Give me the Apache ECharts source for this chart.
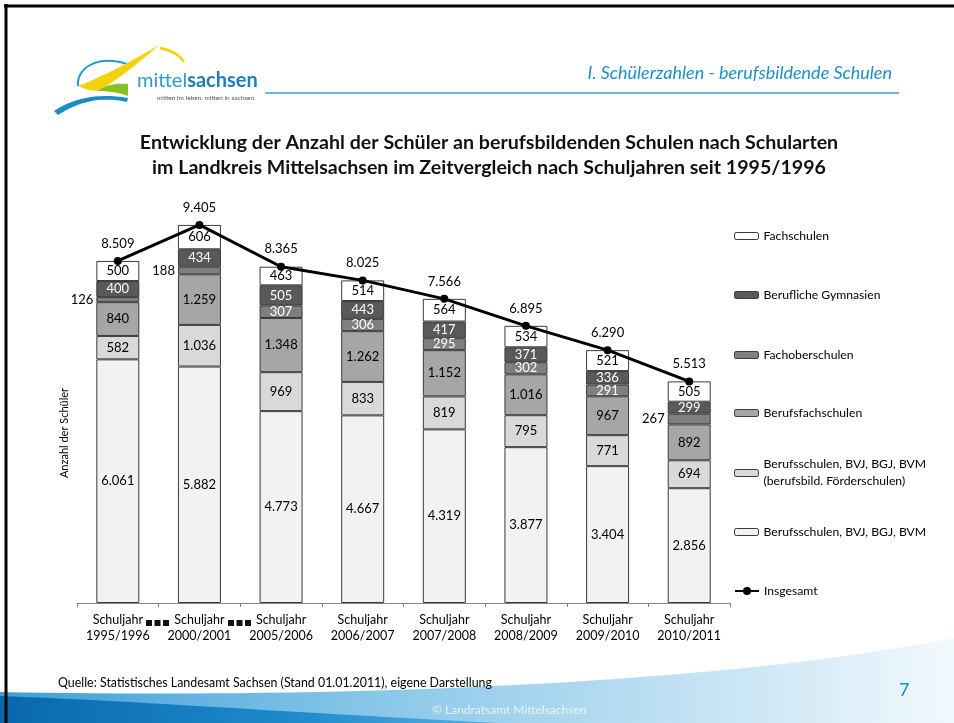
<!DOCTYPE html>
<html>
<head>
<meta charset="utf-8">
<script src="https://cdn.jsdelivr.net/npm/echarts@6/dist/echarts.min.js"></script>
<style>
  html, body { margin: 0; padding: 0; background: #fff; }
  #chart { width: 954px; height: 723px; }
</style>
</head>
<body>
<div id="chart"></div>
<script>
// Schüler an berufsbildenden Schulen, Landkreis Mittelsachsen
const categories = [
  'Schuljahr\n1995/1996', 'Schuljahr\n2000/2001', 'Schuljahr\n2005/2006', 'Schuljahr\n2006/2007',
  'Schuljahr\n2007/2008', 'Schuljahr\n2008/2009', 'Schuljahr\n2009/2010', 'Schuljahr\n2010/2011'
];
const berufsschulen = [6061, 5882, 4773, 4667, 4319, 3877, 3404, 2856];
const foerderschulen = [582, 1036, 969, 833, 819, 795, 771, 694];
const berufsfachschulen = [840, 1259, 1348, 1262, 1152, 1016, 967, 892];
const fachoberschulen = [126, 188, 307, 306, 295, 302, 291, 267];
const gymnasien = [400, 434, 505, 443, 417, 371, 336, 299];
const fachschulen = [500, 606, 463, 514, 564, 534, 521, 505];
const insgesamt = [8509, 9405, 8365, 8025, 7566, 6895, 6290, 5513];

const FONT = 'Lato, "Open Sans", sans-serif';
const fmt = v => String(v).replace(/\B(?=(\d{3})+(?!\d))/g, '.');

const chart = echarts.init(document.getElementById('chart'));

// name, data, fill, label colour
const barDefs = [
  ['Berufsschulen, BVJ, BGJ, BVM', berufsschulen, '#f2f2f2', '#000'],
  ['Berufsschulen, BVJ, BGJ, BVM (berufsbild. Förderschulen)', foerderschulen, '#d9d9d9', '#000'],
  ['Berufsfachschulen', berufsfachschulen, '#a6a6a6', '#000'],
  ['Fachoberschulen', fachoberschulen, '#7f7f7f', '#fff'],
  ['Berufliche Gymnasien', gymnasien, '#595959', '#fff'],
  ['Fachschulen', fachschulen, '#ffffff', '#000']
];

const barSeries = barDefs.map(([name, data, color, labelColor]) => ({
  name: name,
  type: 'bar',
  stack: 'total',
  barWidth: 43,
  itemStyle: { color: color, borderColor: '#3a3a3a', borderWidth: 1 },
  label: {
    show: true, position: 'inside', color: labelColor,
    fontFamily: FONT, fontSize: 13,
    formatter: p => fmt(p.value)
  },
  // segments too thin for a label get it on the left side
  data: data.map(v => v < 280
    ? { value: v, label: { position: 'left', distance: 3, color: '#000' } }
    : v)
}));

const lineSeries = {
  name: 'Insgesamt',
  type: 'line',
  data: insgesamt,
  z: 5,
  symbol: 'circle',
  symbolSize: 8,
  lineStyle: { color: '#000', width: 3 },
  itemStyle: { color: '#000' },
  label: {
    show: true, position: 'top', distance: 7, color: '#000',
    fontFamily: FONT, fontSize: 13,
    formatter: p => fmt(p.value)
  }
};

// legend rows, top to bottom (centre y of each icon)
const legendRows = [
  ['Fachschulen', 237],
  ['Berufliche Gymnasien', 296],
  ['Fachoberschulen', 356],
  ['Berufsfachschulen', 414],
  ['Berufsschulen, BVJ, BGJ, BVM (berufsbild. Förderschulen)', 473],
  ['Berufsschulen, BVJ, BGJ, BVM', 533],
  ['Insgesamt', 592]
];
const legends = legendRows.map(([name, cy]) => {
  const two = name.indexOf(' (') > 0;
  return {
    data: [name],
    left: 734,
    top: two ? cy - 25.5 : cy - 7,
    padding: 0,
    itemWidth: 24,
    itemHeight: name === 'Insgesamt' ? 10 : 7,
    itemStyle: name === 'Insgesamt' ? {} : { borderColor: '#3a3a3a', borderWidth: 1 },
    textStyle: two
      ? { fontFamily: FONT, fontSize: 12.2, color: '#000', lineHeight: 17, padding: [17, 0, 0, 0] }
      : { fontFamily: FONT, fontSize: 12.2, color: '#000' },
    formatter: n => n.replace(' (', '\n('),
    selectedMode: false
  };
});

// sample a cubic bezier into polygon points (for decorative shapes)
function bez(p0, p1, p2, p3, n) {
  const pts = [];
  for (let i = 0; i <= n; i++) {
    const t = i / n, u = 1 - t;
    pts.push([
      u * u * u * p0[0] + 3 * u * u * t * p1[0] + 3 * u * t * t * p2[0] + t * t * t * p3[0],
      u * u * u * p0[1] + 3 * u * u * t * p1[1] + 3 * u * t * t * p2[1] + t * t * t * p3[1]
    ]);
  }
  return pts;
}
function curve(x1, y1, c1x, c1y, c2x, c2y, x2, y2, color, w) {
  return {
    type: 'bezierCurve',
    shape: { x1: x1, y1: y1, cpx1: c1x, cpy1: c1y, cpx2: c2x, cpy2: c2y, x2: x2, y2: y2 },
    style: { stroke: color, lineWidth: w, fill: null }
  };
}

function breakMarks(x0) {
  return [0, 1, 2].map(i => ({
    type: 'rect', shape: { x: x0 + i * 8.5, y: 620, width: 6, height: 6 },
    style: { fill: '#111' }
  }));
}

const footerLight = bez([0, 692], [300, 698], [700, 688], [954, 638], 40).concat([[954, 723], [0, 723]]);
const footerDark = bez([0, 696], [120, 700], [280, 712], [500, 723], 30).concat([[0, 723]]);
const yellowWing = bez([78, 86], [100, 78], [130, 62], [159, 45], 16)
  .concat(bez([159, 45], [140, 62], [120, 78], [98, 91], 16))
  .concat([[88, 90]]);
const greenPart = bez([98, 91], [105, 85], [115, 83], [128, 84], 12).concat([[128, 96]])
  .concat(bez([128, 96], [118, 92], [106, 91], [98, 91], 12));
const blueSwoosh = bez([54, 111], [70, 100], [95, 92], [128, 98], 16)
  .concat(bez([127, 102], [100, 96], [78, 102], [58, 115], 16));

chart.setOption({
  backgroundColor: '#fff',
  animation: false,
  textStyle: { fontFamily: FONT },
  grid: { left: 77, right: 224, top: 201, bottom: 120 },
  legend: legends,
  xAxis: {
    type: 'category',
    data: categories,
    axisLine: { lineStyle: { color: '#868686', width: 1 } },
    axisTick: { show: true, length: 4, lineStyle: { color: '#868686' } },
    axisLabel: { color: '#000', fontFamily: FONT, fontSize: 12.5, lineHeight: 16, margin: 9, interval: 0 }
  },
  yAxis: {
    type: 'value', min: 0, max: 10000,
    axisLine: { show: false }, axisTick: { show: false },
    axisLabel: { show: false }, splitLine: { show: false }
  },
  series: barSeries.concat([lineSeries]),
  graphic: [
    // footer swoosh
    {
      type: 'polygon', z: -10,
      shape: { points: footerLight },
      style: {
        fill: new echarts.graphic.LinearGradient(0, 0, 1, 0, [
          { offset: 0, color: '#3d9fd8' },
          { offset: 0.45, color: '#93cceb' },
          { offset: 0.8, color: '#cfe8f5' },
          { offset: 1, color: '#f2f9fd' }
        ])
      }
    },
    {
      type: 'polygon', z: -9,
      shape: { points: footerDark },
      style: {
        fill: new echarts.graphic.LinearGradient(0, 0, 1, 0, [
          { offset: 0, color: '#0868ad' },
          { offset: 0.6, color: '#1f8bcc' },
          { offset: 1, color: '#5bb0de' }
        ])
      }
    },
    {
      type: 'text', left: 432, top: 704,
      style: { text: '© Landratsamt Mittelsachsen', fill: 'rgba(255,255,255,0.75)', font: '12px ' + FONT }
    },
    {
      type: 'text', left: 899, top: 681,
      style: { text: '7', fill: '#1a8cc8', font: '18px ' + FONT }
    },
    // frame
    { type: 'line', z: 20, shape: { x1: 4, y1: 6, x2: 954, y2: 6 }, style: { stroke: '#000', lineWidth: 3 } },
    { type: 'line', z: 20, shape: { x1: 6, y1: 4, x2: 6, y2: 723 }, style: { stroke: '#000', lineWidth: 3 } },
    // logo
    curve(78, 86, 76, 70, 95, 54, 127, 64, '#1f9ad6', 2),
    { type: 'polygon', shape: { points: yellowWing }, style: { fill: '#f4d20a' } },
    curve(160, 48, 170, 50, 180, 55, 184, 62, '#f4d20a', 2.5),
    { type: 'polygon', shape: { points: greenPart }, style: { fill: '#8cbf26' } },
    { type: 'polygon', shape: { points: blueSwoosh }, style: { fill: '#1a8cc8' } },
    {
      type: 'text', left: 137, top: 71,
      style: {
        text: '{a|mittel}{b|sachsen}',
        rich: {
          a: { fill: '#2a9fcc', fontFamily: FONT, fontSize: 20 },
          b: { fill: '#1b7fbe', fontFamily: FONT, fontSize: 20, fontWeight: 'bold' }
        }
      }
    },
    {
      type: 'text', left: 157, top: 94,
      style: { text: 'mitten im leben. mitten in sachsen.', fill: '#555', font: '6.5px ' + FONT }
    },
    // header
    {
      type: 'text', right: 62, top: 64,
      style: { text: 'I. Schülerzahlen - berufsbildende Schulen', fill: '#1f8fc8', font: 'italic 18px ' + FONT }
    },
    { type: 'line', shape: { x1: 265, y1: 93, x2: 899, y2: 93 }, style: { stroke: '#6ab8d8', lineWidth: 2 } },
    // title
    {
      type: 'text', x: 489, y: 130,
      style: {
        text: 'Entwicklung der Anzahl der Schüler an berufsbildenden Schulen nach Schularten\nim Landkreis Mittelsachsen im Zeitvergleich nach Schuljahren seit 1995/1996',
        fill: '#111', font: 'bold 19.6px ' + FONT, align: 'center', lineHeight: 25
      }
    },
    // y axis name
    {
      type: 'text', x: 64, y: 433, rotation: Math.PI / 2,
      style: { text: 'Anzahl der Schüler', fill: '#000', font: '11px ' + FONT, align: 'center', verticalAlign: 'middle' }
    },
    // axis break marks
    ...breakMarks(146),
    ...breakMarks(228),
    // source
    {
      type: 'text', left: 58, top: 677,
      style: { text: 'Quelle: Statistisches Landesamt Sachsen (Stand 01.01.2011), eigene Darstellung', fill: '#000', font: '12.4px ' + FONT }
    }
  ]
});
</script>
</body>
</html>
